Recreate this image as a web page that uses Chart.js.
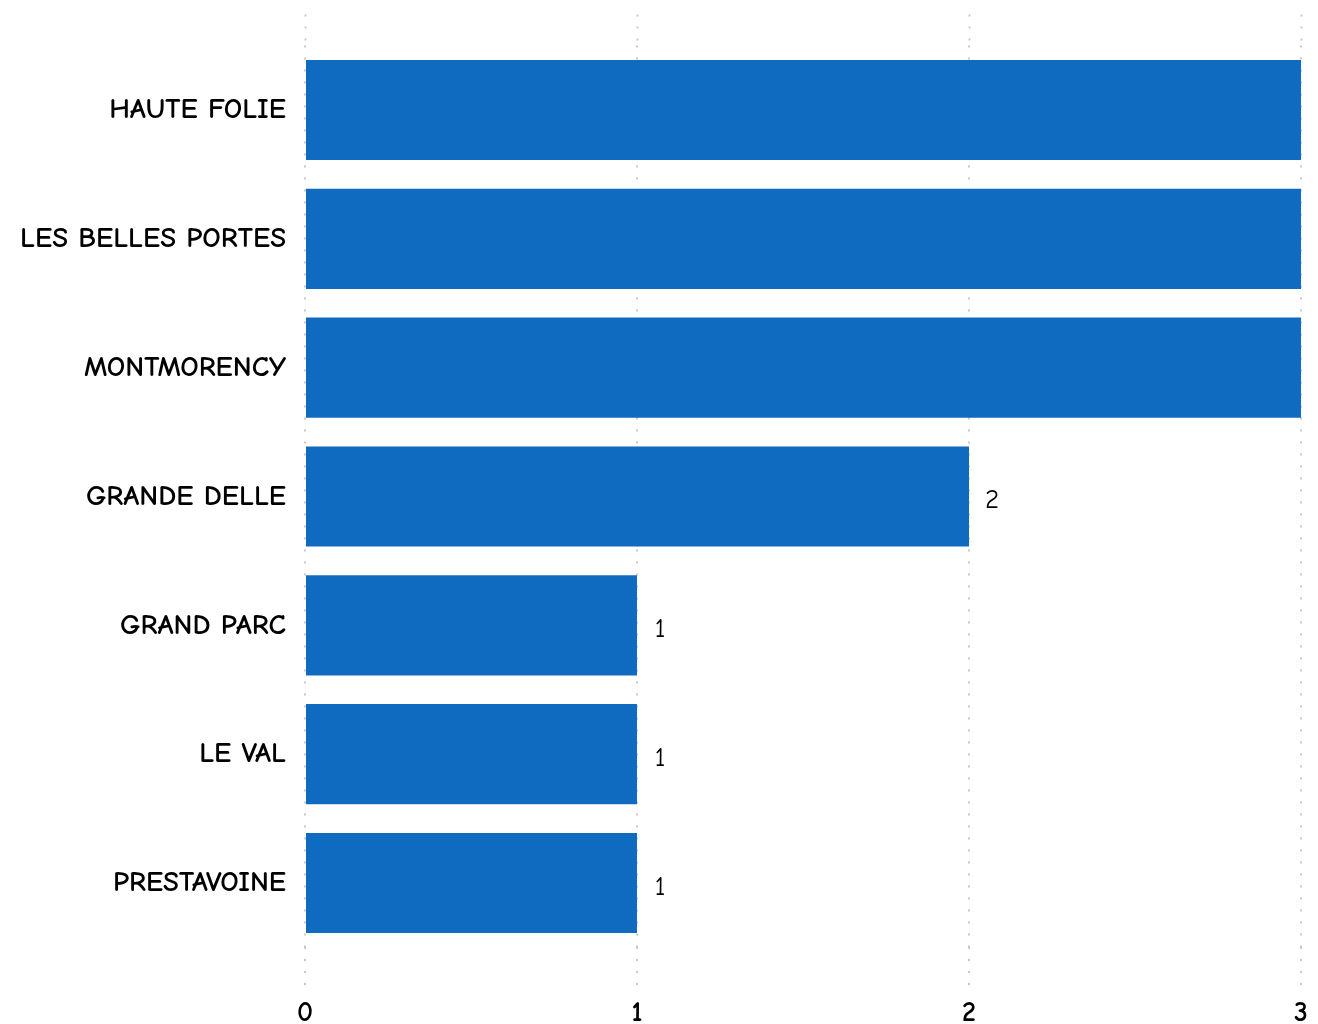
<!DOCTYPE html>
<html>
<head>
<meta charset="utf-8">
<script src="https://cdn.jsdelivr.net/npm/chart.js@4"></script>
<style>
  html, body { margin: 0; padding: 0; background: #fff; }
  #wrap { width: 1318px; height: 1024px; }
</style>
</head>
<body>
<div id="wrap"><canvas id="myChart"></canvas></div>
<script>
const categories = ['HAUTE FOLIE', 'LES BELLES PORTES', 'MONTMORENCY', 'GRANDE DELLE', 'GRAND PARC', 'LE VAL', 'PRESTAVOINE'];
const values = [3, 3, 3, 2, 1, 1, 1];
const xTicks = [0, 1, 2, 3];

const labelFont = "'Comic Sans MS', 'Comic Neue', Lato, sans-serif";
const dotColor = '#c9c9c9';

// valeurs a droite des barres
const valueLabels = {
    id: 'valueLabels',
    afterDatasetsDraw(chart) {
        const ctx = chart.ctx;
        const meta = chart.getDatasetMeta(0);
        ctx.save();
        ctx.font = "27px " + labelFont;
        ctx.fillStyle = '#000';
        ctx.textAlign = 'center';
        ctx.textBaseline = 'middle';
        meta.data.forEach((bar, i) => {
            ctx.fillText(String(values[i]), bar.x + 23, bar.y + 4);
        });
        ctx.restore();
    }
};

function drawChart() {
    const ctx = document.getElementById('myChart');
    new Chart(ctx, {
        type: 'bar',
        data: {
            labels: categories,
            datasets: [{
                data: values,
                backgroundColor: '#0f6bc0',
                borderWidth: 0,
                barPercentage: 0.777,
                categoryPercentage: 1
            }]
        },
        options: {
            indexAxis: 'y',
            responsive: true,
            maintainAspectRatio: false,
            animation: false,
            layout: { padding: { left: 0, right: 17, top: 0, bottom: 0 } },
            plugins: {
                legend: { display: false },
                tooltip: { enabled: false }
            },
            scales: {
                x: {
                    position: 'bottom',
                    min: 0,
                    max: 3,
                    afterBuildTicks: s => { s.ticks = xTicks.map(v => ({value: v})); },
                    afterFit: s => { s.height = 76.6; },
                    grid: {
                        color: dotColor,
                        lineWidth: 2,
                        drawTicks: true,
                        tickLength: 40,
                        tickColor: dotColor,
                        tickWidth: 2,
                        tickBorderDash: [2, 10]
                    },
                    border: { display: false, dash: [2, 10] },
                    ticks: {
                        padding: 9,
                        color: '#000',
                        font: { family: labelFont, size: 28, weight: '600' }
                    }
                },
                xTop: {
                    type: 'linear',
                    axis: 'x',
                    position: 'top',
                    min: 0,
                    max: 3,
                    afterBuildTicks: s => { s.ticks = xTicks.map(v => ({value: v})); },
                    afterFit: s => { s.height = 45.6; },
                    grid: {
                        drawOnChartArea: false,
                        drawTicks: true,
                        tickLength: 31,
                        tickColor: dotColor,
                        tickWidth: 2,
                        tickBorderDash: [2, 10]
                    },
                    border: { display: false },
                    ticks: { display: false }
                },
                y: {
                    afterFit: s => { s.width = 305; },
                    grid: { display: false, drawTicks: false },
                    border: { display: false },
                    ticks: {
                        padding: 19,
                        color: '#000',
                        font: { family: labelFont, size: 29, weight: '600' }
                    }
                }
            }
        },
        plugins: [valueLabels]
    });
}

window.addEventListener('load', evt => drawChart());
</script>
</body>
</html>
